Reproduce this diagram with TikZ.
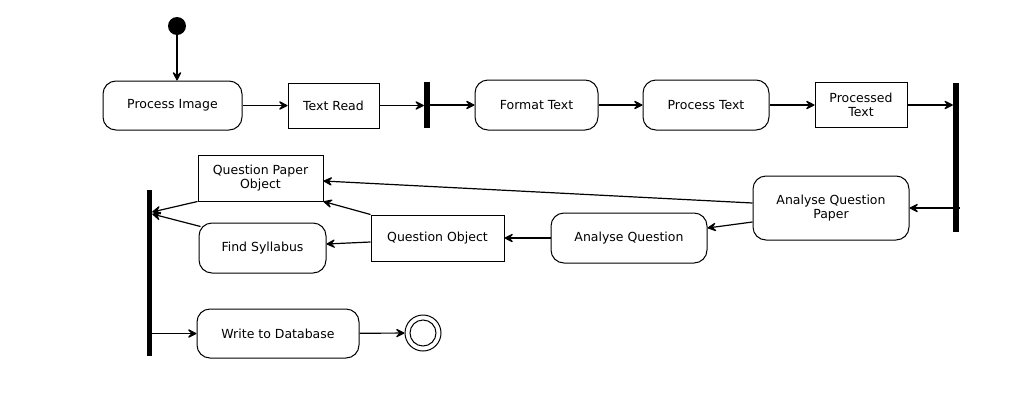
\documentclass[tikz,border=0pt]{standalone}
\usepackage{fontspec}
\setmainfont{DejaVu Sans}
\usetikzlibrary{arrows.meta}
\begin{document}
\begin{tikzpicture}[x=1pt,y=-1pt,
  every node/.style={font=\fontsize{12.5}{14.5}\selectfont, align=center, inner sep=0pt},
  act/.style={draw, line width=1pt, rounded corners=13pt},
  obj/.style={draw, line width=1pt},
  bar/.style={fill=black, draw=none},
  flow/.style={draw, line width=1.2pt, -{Stealth[length=11pt,width=11pt,inset=5pt,round]}}]
\useasboundingbox (0,0) rectangle (1010,410);
\node[fill=black, circle, minimum size=18pt] (start) at (177,26) {};
\node[act, minimum width=139pt, minimum height=49pt] (pi) at (172.5,105.5) {Process Image};
\node[obj, minimum width=91pt, minimum height=45pt] (tr) at (333.5,105.5) {Text Read};
\node[bar, minimum width=6pt, minimum height=46pt] (b1) at (427,105) {};
\node[act, minimum width=123pt, minimum height=50pt] (ft) at (536.5,105) {Format Text};
\node[act, minimum width=126pt, minimum height=50pt] (pt) at (706,105) {Process Text};
\node[obj, minimum width=92pt, minimum height=45pt] (pxt) at (861,105) {Processed\\Text};
\node[bar, minimum width=6pt, minimum height=149pt] (b2) at (956,157.5) {};
\coordinate (b2r) at (960,208);
\node[act, minimum width=156pt, minimum height=64pt] (aqp) at (831,208) {Analyse Question\\Paper};
\node[act, minimum width=156pt, minimum height=50pt] (aq) at (629,238) {Analyse Question};
\node[obj, minimum width=133pt, minimum height=46pt] (qo) at (437.5,238) {Question Object};
\node[obj, minimum width=125pt, minimum height=46pt] (qpo) at (260.5,178) {Question Paper\\Object};
\node[act, minimum width=127pt, minimum height=50pt] (fs) at (262.5,248) {Find Syllabus};
\node[bar, minimum width=5pt, minimum height=166pt] (b3) at (149.5,273) {};
\node[act, minimum width=162pt, minimum height=49pt] (wd) at (278,333.5) {Write to Database};
\node[draw, line width=1pt, circle, minimum size=36pt] (end) at (423,333) {};
\node[draw, line width=1pt, circle, minimum size=26pt] (endin) at (423,333) {};

\path[flow] (start.south) -- (start.south |- pi.north);
\path[flow] (pi) -- (tr);
\path[flow] (tr) -- (b1.west |- tr);
\path[flow] (b1.east |- ft) -- (ft);
\path[flow] (ft) -- (pt);
\path[flow] (pt) -- (pxt);
\path[flow] (pxt.east) -- (pxt.east -| b2.west);
\path[flow] (b2r) -- (aqp.east);
\path[flow] (aqp.west |- 0,222) -- (aq.east |- 0,228);
\path[flow] (aqp.west |- 0,203) -- (qpo.east |- 0,181);
\path[flow] (aq) -- (qo);
\path[flow] (qo.north west) -- (qpo.south east);
\path[flow] (qo.west |- 0,242) -- (fs.east |- 0,244);
\path[flow] (qpo.south west) -- (b3.east |- 0,212);
\path[flow] (fs.north west) ++(2,4) -- (b3.east |- 0,214);
\path[flow] (b3.east |- wd) -- (wd);
\path[flow] (wd) -- (end);
\end{tikzpicture}
\end{document}
